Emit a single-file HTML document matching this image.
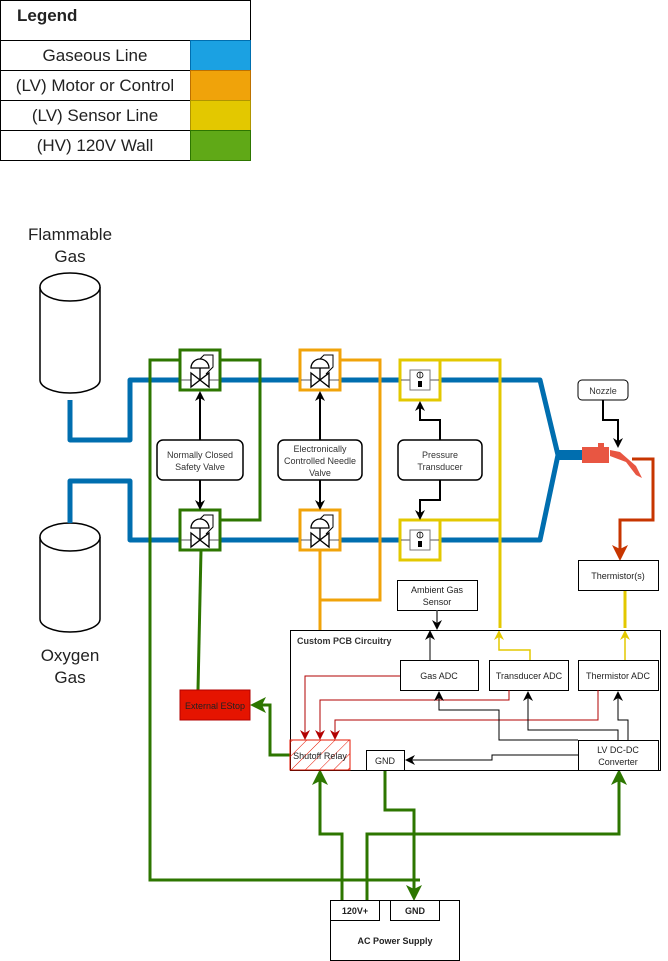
<!DOCTYPE html>
<html><head><meta charset="utf-8"><style>body{margin:0;background:#fff}svg{display:block}text{font-family:"Liberation Sans",sans-serif}</style></head><body>
<svg width="668" height="961" viewBox="0 0 668 961" xmlns="http://www.w3.org/2000/svg">
<defs>
<marker id="ab" markerWidth="10" markerHeight="10" refX="8" refY="5" orient="auto" markerUnits="userSpaceOnUse"><path d="M0,0 L10,5 L0,10 L3,5 Z" fill="#000"/></marker>
<marker id="ag" markerWidth="16" markerHeight="16" refX="13" refY="8" orient="auto" markerUnits="userSpaceOnUse"><path d="M0,0 L16,8 L0,16 L4,8 Z" fill="#2D7600"/></marker>
<marker id="ar" markerWidth="10" markerHeight="10" refX="8" refY="5" orient="auto" markerUnits="userSpaceOnUse"><path d="M0,0 L10,5 L0,10 L3,5 Z" fill="#B20000"/></marker>
<marker id="ay" markerWidth="10" markerHeight="10" refX="8" refY="5" orient="auto" markerUnits="userSpaceOnUse"><path d="M0,0 L10,5 L0,10 L3,5 Z" fill="#E3C800"/></marker>
<marker id="ao" markerWidth="16" markerHeight="16" refX="13" refY="8" orient="auto" markerUnits="userSpaceOnUse"><path d="M0,0 L16,8 L0,16 L4,8 Z" fill="#C73500"/></marker>
<pattern id="hatch" width="10" height="10" patternUnits="userSpaceOnUse" patternTransform="rotate(45)"><line x1="0" y1="0" x2="0" y2="10" stroke="#E51400" stroke-width="1"/></pattern>
<g id="valve"><path d="M-19,0 H-8 M8,0 H19" stroke="#555" fill="none"/><path d="M-9,-7 L9,7 L9,-7 L-9,7 Z" fill="#fff" stroke="#000" stroke-width="1.3"/><line x1="0" y1="0" x2="0" y2="-12" stroke="#000" stroke-width="1.3"/><path d="M-9,-12 A9,9 0 0 1 9,-12 Z" fill="#fff" stroke="#000" stroke-width="1.3"/><path d="M0,-21 L4,-25 H13 V-13 L6,-6" fill="none" stroke="#000"/></g>
<g id="sens"><path d="M-19,0 H-10 M10,0 H19" stroke="#555"/><rect x="-10" y="-10" width="20" height="20" fill="#fff" stroke="#777"/><circle cx="0" cy="-5" r="3" fill="none" stroke="#000" stroke-width="0.8"/><line x1="0" y1="-8" x2="0" y2="-2" stroke="#000" stroke-width="0.8"/><rect x="-2" y="1" width="4" height="6" fill="#000"/></g>
</defs>

<g stroke="#000" stroke-width="1">
<rect x="0.5" y="0.5" width="250" height="40" fill="#fff"/>
<rect x="0.5" y="40.5" width="190" height="30" fill="#fff"/><rect x="190.5" y="40.5" width="60" height="30" fill="#1BA1E2" stroke="#006EAF"/>
<rect x="0.5" y="70.5" width="190" height="30" fill="#fff"/><rect x="190.5" y="70.5" width="60" height="30" fill="#F0A30A" stroke="#BD7000"/>
<rect x="0.5" y="100.5" width="190" height="30" fill="#fff"/><rect x="190.5" y="100.5" width="60" height="30" fill="#E3C800" stroke="#B09500"/>
<rect x="0.5" y="130.5" width="190" height="30" fill="#fff"/><rect x="190.5" y="130.5" width="60" height="30" fill="#60A917" stroke="#2D7600"/>
</g>
<g font-size="17" fill="#222" text-anchor="middle">
<text x="17" y="21" text-anchor="start" font-weight="bold" font-size="17">Legend</text>
<text x="95" y="61">Gaseous Line</text>
<text x="95" y="91">(LV) Motor or Control</text>
<text x="95" y="121">(LV) Sensor Line</text>
<text x="95" y="151">(HV) 120V Wall</text>
<text x="70" y="240">Flammable</text><text x="70" y="262">Gas</text>
<text x="70" y="661">Oxygen</text><text x="70" y="683">Gas</text>
</g>

<g fill="#fff" stroke="#000" stroke-width="1.5">
<path d="M40,287 V380 A30,13 0 0 0 100,380 V287"/><ellipse cx="70" cy="287" rx="30" ry="14"/>
<path d="M40,537 V619 A30,13 0 0 0 100,619 V537"/><ellipse cx="70" cy="537" rx="30" ry="14"/>
</g>

<g fill="none" stroke="#006EAF" stroke-width="5" stroke-linejoin="round">
<path d="M70,400 V440 H130 V380 H540 L558,455 L540,540 H130 V481 H70 V523"/>
<path d="M556,455 H582" stroke-width="10"/>
</g>

<g fill="none" stroke="#2D7600" stroke-width="3">
<path d="M220,360 H260 V520 H220"/>
<path d="M180,360 H150 V880 H420"/>
<path d="M201,550 L198,690"/>
<path d="M290,755 H270 V705 H253" marker-end="url(#ag)"/>
<path d="M342,900 V834 H320 V772" marker-end="url(#ag)"/>
<path d="M367,900 V834 H619 V772" marker-end="url(#ag)"/>
<path d="M385,770 V810 H414 V898" marker-end="url(#ag)"/>
</g>
<g fill="none" stroke="#F0A30A" stroke-width="3">
<path d="M340,360 H380 V600 H320"/>
<path d="M320,550 V630"/>
</g>
<g fill="none" stroke="#E3C800">
<path d="M440,360 H500 V628" stroke-width="3"/>
<path d="M440,520 H500" stroke-width="3"/>
<path d="M530,660 V650 H499 V632" stroke-width="1.5" marker-end="url(#ay)"/>
<path d="M625,590 V628" stroke-width="3"/>
<path d="M625,660 V632" stroke-width="1.5" marker-end="url(#ay)"/>
</g>

<g stroke-width="3" fill="#fff">
<rect x="180" y="350" width="40" height="40" stroke="#2D7600"/>
<rect x="180" y="510" width="40" height="40" stroke="#2D7600"/>
<rect x="300" y="350" width="40" height="40" stroke="#F0A30A"/>
<rect x="300" y="510" width="40" height="40" stroke="#F0A30A"/>
<rect x="400" y="360" width="40" height="40" stroke="#E3C800"/>
<rect x="400" y="520" width="40" height="40" stroke="#E3C800"/>
</g>
<use href="#valve" x="200" y="380"/><use href="#valve" x="200" y="540"/>
<use href="#valve" x="320" y="380"/><use href="#valve" x="320" y="540"/>
<use href="#sens" x="420" y="380"/><use href="#sens" x="420" y="540"/>

<g stroke="#000" stroke-width="2" fill="none">
<path d="M200,440 V393" marker-end="url(#ab)"/><path d="M200,480 V508" marker-end="url(#ab)"/>
<path d="M320,440 V393" marker-end="url(#ab)"/><path d="M320,480 V508" marker-end="url(#ab)"/>
<path d="M440,440 V420 H420 V403" marker-end="url(#ab)"/><path d="M440,480 V500 H420 V518" marker-end="url(#ab)"/>
</g>
<g fill="#fff" stroke="#000" stroke-width="1.5">
<rect x="157" y="440" width="86" height="40" rx="6"/>
<rect x="278" y="440" width="84" height="40" rx="6"/>
<rect x="398" y="440" width="84" height="40" rx="6"/>
</g>
<g font-size="9" fill="#333" text-anchor="middle">
<text x="200" y="458">Normally Closed</text><text x="200" y="470">Safety Valve</text>
<text x="320" y="452">Electronically</text><text x="320" y="464">Controlled Needle</text><text x="320" y="476">Valve</text>
<text x="440" y="458">Pressure</text><text x="440" y="470">Transducer</text>
</g>

<rect x="582" y="447" width="27" height="16" fill="#E85642"/>
<rect x="598" y="443" width="6" height="4" fill="#E85642"/>
<path d="M610,450 L620,452 L636,466 L642,478 L636,475 L626,462 L610,456 Z" fill="#E85642"/>
<rect x="578" y="380" width="50" height="20" rx="4" fill="#fff" stroke="#000"/>
<text x="603" y="394" font-size="9" text-anchor="middle" fill="#333">Nozzle</text>
<path d="M603,400 V420 H618 V446" fill="none" stroke="#000" stroke-width="2" marker-end="url(#ab)"/>
<path d="M632,459 H653 V520 H620 V558" fill="none" stroke="#C73500" stroke-width="3" marker-end="url(#ao)"/>

<rect x="290.5" y="630.5" width="370" height="140" fill="none" stroke="#000"/>
<text x="297" y="644" font-size="9" font-weight="bold" fill="#333">Custom PCB Circuitry</text>
<g fill="#fff" stroke="#000">
<rect x="578.5" y="560.5" width="80" height="30"/>
<rect x="397.5" y="580.5" width="80" height="30"/>
<rect x="400.5" y="660.5" width="78" height="30"/>
<rect x="489.5" y="660.5" width="79" height="30"/>
<rect x="578.5" y="660.5" width="80" height="30"/>
<rect x="578.5" y="740.5" width="80" height="30"/>
<rect x="366.5" y="750.5" width="38" height="20"/>
<rect x="330.5" y="900.5" width="129" height="60"/>
<rect x="330.5" y="900.5" width="49" height="20"/>
<rect x="390.5" y="900.5" width="49" height="20"/>
</g>
<rect x="290" y="740" width="60" height="30" fill="url(#hatch)" stroke="#E51400"/>
<rect x="180" y="690" width="70" height="30" fill="#E51400" stroke="#B20000"/>
<g font-size="9" fill="#222" text-anchor="middle">
<text x="618" y="579">Thermistor(s)</text>
<text x="437" y="593">Ambient Gas</text><text x="437" y="605">Sensor</text>
<text x="439" y="679">Gas ADC</text>
<text x="529" y="679">Transducer ADC</text>
<text x="618" y="679">Thermistor ADC</text>
<text x="618" y="753">LV DC-DC</text><text x="618" y="765">Converter</text>
<text x="385" y="764">GND</text>
<text x="320" y="759">Shutoff Relay</text>
<text x="215" y="709">External EStop</text>
<text x="355" y="914" font-weight="bold">120V+</text>
<text x="415" y="914" font-weight="bold">GND</text>
<text x="395" y="944" font-weight="bold">AC Power Supply</text>
</g>
<g fill="none" stroke-width="1.5">
<path d="M437,610 V628" stroke="#444" marker-end="url(#ab)"/>
<path d="M430,660 V632" stroke="#555" marker-end="url(#ab)"/>
<path d="M400,676 H305 V738" stroke="#B20000" stroke-width="1" marker-end="url(#ar)"/>
<path d="M509,690 V700 H320 V738" stroke="#B20000" stroke-width="1" marker-end="url(#ar)"/>
<path d="M598,690 V720 H335 V738" stroke="#B20000" stroke-width="1" marker-end="url(#ar)"/>
<path d="M578,740 H499 V710 H439 V693" stroke="#000" stroke-width="1" marker-end="url(#ab)"/>
<path d="M618,740 V730 H528 V693" stroke="#000" stroke-width="1" marker-end="url(#ab)"/>
<path d="M628,740 V720 H618 V693" stroke="#000" stroke-width="1" marker-end="url(#ab)"/>
<path d="M578,755 H492 V760 H407" stroke="#000" stroke-width="1" marker-end="url(#ab)"/>
</g>
</svg>
</body></html>
